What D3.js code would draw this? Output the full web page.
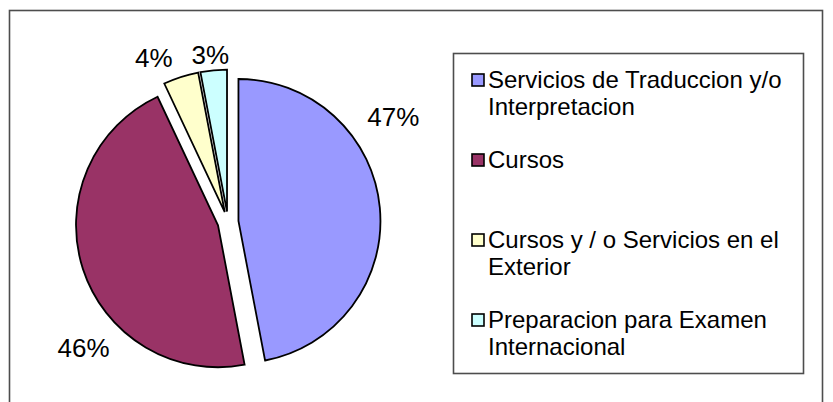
<!DOCTYPE html>
<html>
<head>
<meta charset="utf-8">
<script src="https://cdn.jsdelivr.net/npm/d3@7"></script>
<style>
  body { margin: 0; background: #fff; }
  svg text { font-family: "Liberation Sans", Arial, sans-serif; fill: #000; }
</style>
</head>
<body>
<div id="chart"></div>
<script>
// chart data
var categories = [
  ["Servicios de Traduccion y/o", "Interpretacion"],
  ["Cursos"],
  ["Cursos y / o Servicios en el", "Exterior"],
  ["Preparacion para Examen", "Internacional"]
];
var values = [47, 46, 4, 3];
var colors = ["#9999FF", "#993366", "#FFFFCC", "#CCFFFF"];

var width = 833, height = 402;
var cx = 228, cy = 222, radius = 142, explode = 10.5;

// where each % label sits: fraction across the slice and distance from centre
var labelFrac = [0.34, 0.36, 0.06, 0.44];
var labelDist = [196, 192, 180, 168];

var svg = d3.select("#chart")
  .append("svg")
    .attr("width", width)
    .attr("height", height);

// outer frame
svg.append("rect")
  .attr("x", 9.5).attr("y", 10.5)
  .attr("width", 813).attr("height", 400)
  .attr("fill", "#fff")
  .attr("stroke", "#4d4d4d")
  .attr("stroke-width", 1.6);

var pie = d3.pie().sort(null).value(function(d){ return d; });
var arcs = pie(values);
var arc = d3.arc().innerRadius(0).outerRadius(radius);

var g = svg.append("g")
  .attr("transform", "translate(" + cx + "," + cy + ")");

g.selectAll(".slice")
  .data(arcs)
  .enter().append("path")
    .attr("class", "slice")
    .attr("d", arc)
    .attr("fill", function(d, i){ return colors[i]; })
    .attr("stroke", "#000")
    .attr("stroke-width", 1.8)
    .attr("transform", function(d){
      var a = (d.startAngle + d.endAngle) / 2;
      return "translate(" + (Math.sin(a) * explode) + "," + (-Math.cos(a) * explode) + ")";
    });

// percent labels
g.selectAll(".pct")
  .data(arcs)
  .enter().append("text")
    .attr("class", "pct")
    .attr("x", function(d, i){
      var a = d.startAngle + (d.endAngle - d.startAngle) * labelFrac[i];
      return Math.sin(a) * labelDist[i];
    })
    .attr("y", function(d, i){
      var a = d.startAngle + (d.endAngle - d.startAngle) * labelFrac[i];
      return -Math.cos(a) * labelDist[i];
    })
    .attr("text-anchor", "middle")
    .attr("dominant-baseline", "central")
    .attr("font-size", "26px")
    .text(function(d){ return d3.format(".0f")(d.value) + "%"; });

// legend
var legend = svg.append("g");
legend.append("rect")
  .attr("x", 453.5).attr("y", 53.5)
  .attr("width", 350).attr("height", 320)
  .attr("fill", "#fff")
  .attr("stroke", "#4d4d4d")
  .attr("stroke-width", 1.6);

var y = d3.scalePoint()
  .domain(d3.range(categories.length))
  .range([88, 328]);

var item = legend.selectAll(".item")
  .data(categories)
  .enter().append("g")
    .attr("class", "item")
    .attr("transform", function(d, i){ return "translate(0," + y(i) + ")"; });

item.append("rect")
  .attr("x", 472).attr("y", -14)
  .attr("width", 12).attr("height", 12)
  .attr("fill", function(d, i){ return colors[i]; })
  .attr("stroke", "#000")
  .attr("stroke-width", 1.6);

item.append("text")
  .attr("x", 488)
  .attr("font-size", "24px")
  .selectAll("tspan")
  .data(function(d){ return d; })
  .enter().append("tspan")
    .attr("x", 488)
    .attr("dy", function(d, i){ return i === 0 ? 0 : 27; })
    .text(function(d){ return d; });
</script>
</body>
</html>
